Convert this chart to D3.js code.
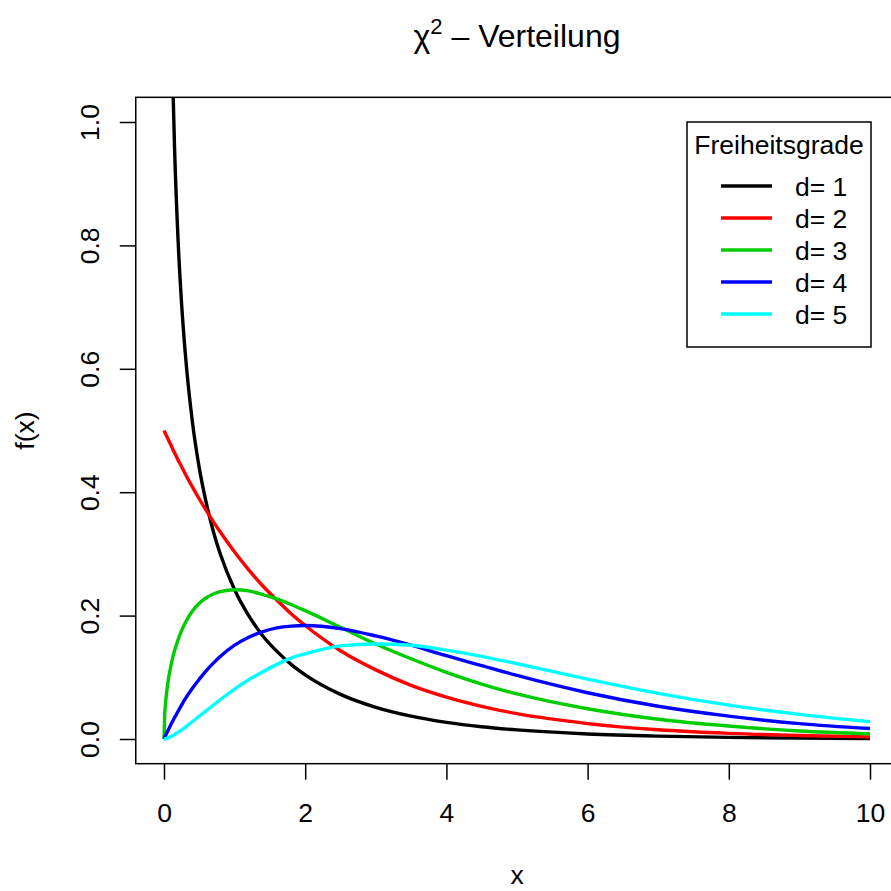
<!DOCTYPE html>
<html>
<head>
<meta charset="utf-8">
<script src="https://cdn.jsdelivr.net/npm/d3@7"></script>
<style>
  body { margin: 0; background: #fff; }
  svg text { font-family: "Liberation Sans", Arial, Helvetica, sans-serif; fill: #000; }
</style>
</head>
<body>
<div id="chart"></div>
<script>
var xs = [0, 0.01, 0.02, 0.05, 0.1, 0.12, 0.15, 0.2, 0.25, 0.3, 0.4, 0.5, 0.6, 0.7, 0.8,
          1, 1.2, 1.4, 1.6, 1.8, 2, 2.5, 3, 3.5, 4, 4.5, 5, 6, 7, 8, 9, 10];

// density values per degree of freedom (d=1 undefined at x=0)
var d1 = [null, 3.97, 2.79, 1.740, 1.200, 1.085, 0.956, 0.807, 0.704, 0.627, 0.516, 0.439,
          0.382, 0.336, 0.299, 0.242, 0.200, 0.167, 0.142, 0.121, 0.104, 0.0723, 0.0514,
          0.0371, 0.0270, 0.0198, 0.0147, 0.0081, 0.0046, 0.0026, 0.0015, 0.0009];
var d2 = [0.500, 0.4975, 0.4950, 0.4877, 0.476, 0.4709, 0.4639, 0.452, 0.4413, 0.430, 0.409,
          0.389, 0.370, 0.352, 0.335, 0.303, 0.274, 0.248, 0.225, 0.203, 0.184, 0.143,
          0.112, 0.087, 0.068, 0.053, 0.041, 0.025, 0.015, 0.0092, 0.0056, 0.0034];
var d3v = [0, 0.0397, 0.0559, 0.0870, 0.120, 0.1302, 0.1433, 0.161, 0.176, 0.188, 0.207,
          0.220, 0.229, 0.235, 0.239, 0.242, 0.240, 0.234, 0.227, 0.218, 0.208, 0.181,
          0.154, 0.130, 0.108, 0.089, 0.073, 0.049, 0.032, 0.021, 0.013, 0.0085];
var d4 = [0, 0.0025, 0.0050, 0.0122, 0.024, 0.0283, 0.0348, 0.045, 0.0552, 0.065, 0.082,
          0.097, 0.111, 0.123, 0.134, 0.152, 0.165, 0.174, 0.180, 0.183, 0.184, 0.179,
          0.167, 0.152, 0.135, 0.119, 0.103, 0.075, 0.053, 0.037, 0.025, 0.017];
var d5 = [0, 0.0001, 0.0004, 0.0015, 0.004, 0.0052, 0.0072, 0.011, 0.0147, 0.019, 0.028,
          0.037, 0.046, 0.055, 0.064, 0.081, 0.096, 0.109, 0.121, 0.131, 0.138, 0.151,
          0.154, 0.152, 0.144, 0.134, 0.122, 0.097, 0.074, 0.055, 0.040, 0.028];

var seriesNames = ["d= 1", "d= 2", "d= 3", "d= 4", "d= 5"];
var seriesValues = [d1, d2, d3v, d4, d5];
var seriesColors = ["#000000", "#FF0000", "#00CD00", "#0000FF", "#00FFFF"];
var xTicks = [0, 2, 4, 6, 8, 10];
var yTicks = [0, 0.2, 0.4, 0.6, 0.8, 1.0];

var width = 891, height = 891;
var fs = 26.5;

var x = d3.scaleLinear().domain([0, 10]).range([164, 870]);
var y = d3.scaleLinear().domain([0, 1]).range([739, 122]);

// R style: 4% extension of the ranges
var boxL = x(-0.4), boxR = x(10.4), boxT = y(1.04), boxB = y(-0.04);

var svg = d3.select("#chart").append("svg")
    .attr("width", width)
    .attr("height", height);

svg.append("defs").append("clipPath").attr("id", "plotclip")
  .append("rect")
    .attr("x", boxL).attr("y", boxT)
    .attr("width", boxR - boxL).attr("height", boxB - boxT);

// curves
var line = d3.line()
    .defined(function(d) { return d[1] != null; })
    .x(function(d) { return x(d[0]); })
    .y(function(d) { return y(d[1]); })
    .curve(d3.curveMonotoneX);

var curves = svg.append("g").attr("clip-path", "url(#plotclip)");
seriesValues.forEach(function(vals, i) {
  var pts = xs.map(function(xv, j) { return [xv, vals[j]]; });
  curves.append("path")
    .attr("d", line(pts))
    .attr("fill", "none")
    .attr("stroke", seriesColors[i])
    .attr("stroke-width", 3.4)
    .attr("stroke-linejoin", "round");
});

// box
svg.append("rect")
    .attr("x", boxL).attr("y", boxT)
    .attr("width", boxR - boxL).attr("height", boxB - boxT)
    .attr("fill", "none")
    .attr("stroke", "#000")
    .attr("stroke-width", 1.5);

// x axis
var gx = svg.append("g")
    .attr("transform", "translate(0," + boxB + ")")
    .call(d3.axisBottom(x).tickValues(xTicks).tickSize(16).tickSizeOuter(0)
          .tickFormat(d3.format("d")));
gx.select(".domain").remove();
gx.selectAll(".tick line").attr("stroke-width", 1.5);
gx.selectAll(".tick text")
    .attr("y", 58).attr("dy", null)
    .style("font-size", fs + "px");

// y axis
var gy = svg.append("g")
    .attr("transform", "translate(" + boxL + ",0)")
    .call(d3.axisLeft(y).tickValues(yTicks).tickSize(16).tickSizeOuter(0)
          .tickFormat(d3.format(".1f")));
gy.select(".domain").remove();
gy.selectAll(".tick line").attr("stroke-width", 1.5);
gy.selectAll(".tick text")
    .attr("x", null).attr("dy", null)
    .attr("text-anchor", "middle")
    .attr("transform", "translate(-37,0) rotate(-90)")
    .style("font-size", fs + "px");

// axis titles
svg.append("text")
    .attr("x", (boxL + boxR) / 2).attr("y", 884)
    .attr("text-anchor", "middle")
    .style("font-size", fs + "px")
    .text("x");

svg.append("text")
    .attr("transform", "translate(34," + ((boxT + boxB) / 2) + ") rotate(-90)")
    .attr("text-anchor", "middle")
    .style("font-size", fs + "px")
    .text("f(x)");

// title
var title = svg.append("text")
    .attr("x", (boxL + boxR) / 2).attr("y", 47)
    .attr("text-anchor", "middle")
    .style("font-size", "32px");
title.append("tspan").text("\u03C7");
title.append("tspan").attr("dy", -13).style("font-size", "22px").text("2");
title.append("tspan").attr("dy", 13).text(" \u2013 Verteilung");

// legend
var lg = svg.append("g");
lg.append("rect")
    .attr("x", 687).attr("y", 122)
    .attr("width", 184).attr("height", 225)
    .attr("fill", "#fff")
    .attr("stroke", "#000")
    .attr("stroke-width", 1.5);
lg.append("text")
    .attr("x", 779).attr("y", 154)
    .attr("text-anchor", "middle")
    .style("font-size", fs + "px")
    .text("Freiheitsgrade");
seriesNames.forEach(function(name, i) {
  var ly = 186 + i * 32;
  lg.append("line")
    .attr("x1", 721).attr("x2", 772)
    .attr("y1", ly).attr("y2", ly)
    .attr("stroke", seriesColors[i])
    .attr("stroke-width", 3.4);
  lg.append("text")
    .attr("x", 795).attr("y", ly + 9.5)
    .style("font-size", fs + "px")
    .text(name);
});
</script>
</body>
</html>
